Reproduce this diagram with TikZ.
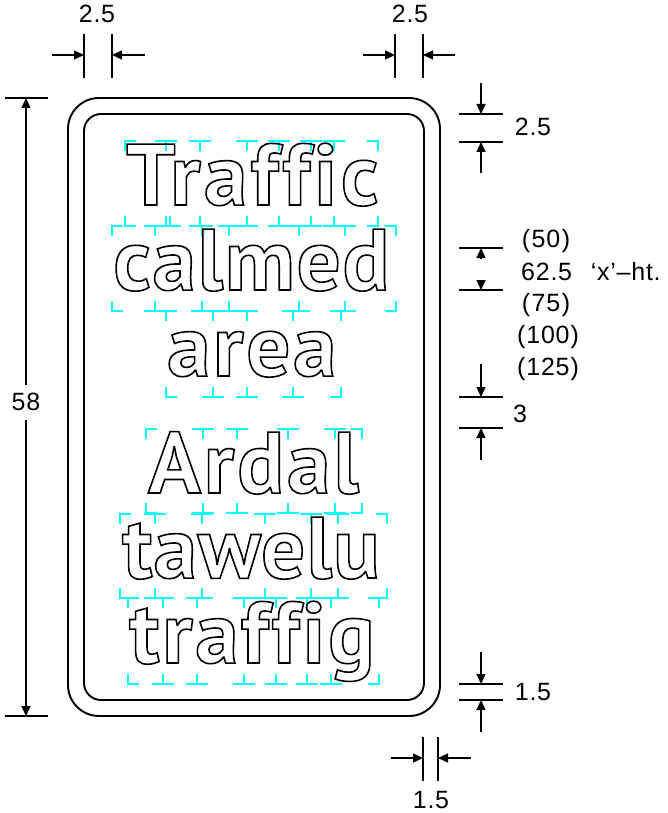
\documentclass[tikz,border=0pt]{standalone}
\usepackage{fontspec}
\setmainfont{Liberation Sans}
\newfontface\signA[Ligatures=NoCommon,LetterSpace=4.1]{PT Sans Bold}
\newfontface\signB[Ligatures=NoCommon,LetterSpace=2]{PT Sans Bold}
\newfontface\signC[Ligatures=NoCommon,LetterSpace=3.1]{PT Sans Bold}
\newfontface\signD[Ligatures=NoCommon,LetterSpace=3.4]{PT Sans Bold}
\newfontface\signE[Ligatures=NoCommon,LetterSpace=1.3]{PT Sans Bold}
\newfontface\signF[Ligatures=NoCommon,LetterSpace=3]{PT Sans Bold}
\definecolor{tickc}{RGB}{0,255,255}
\newcommand{\outl}[1]{\special{pdf:code q 1 Tr 1.6 w}#1\special{pdf:code Q}}
\newcommand{\sz}{\fontsize{87}{87}\selectfont}
\usetikzlibrary{arrows.meta}
\tikzset{
  frameline/.style={line width=1.9pt,black},
  dimline/.style={line width=1.3pt,black},
  dimarrow/.style={line width=1.3pt,black,-{Triangle[length=10pt,width=9pt]}},
  dimtext/.style={font=\fontsize{25}{25}\selectfont\addfontfeature{LetterSpace=3},inner sep=0pt},
  signword/.style={inner sep=0pt,anchor=base west},
  tilemark/.style={line width=1.7pt,tickc}
}
\newcommand{\tmark}[3]{\draw[tilemark] (#1-11,#2) -- (#1+11,#2) (#1,#2) -- (#1,#2+#3);}
\newcommand{\lmark}[3]{\draw[tilemark] (#1+11,#2) -- (#1,#2) -- (#1,#2+#3);}
\newcommand{\rmark}[3]{\draw[tilemark] (#1-11,#2) -- (#1,#2) -- (#1,#2+#3);}
\newcommand{\tilerow}[5]{%
  \lmark{#1}{#4}{#5}\rmark{#3}{#4}{#5}
  \foreach \q in {#2} {\tmark{\q}{#4}{#5}}}
\begin{document}
\begin{tikzpicture}[x=1pt,y=-1pt]
\useasboundingbox (0,0) rectangle (667,813);
% tile marks
\tilerow{125}{165.7,200,247.3,279.3,311,334.3}{377.7}{141}{10}
\tilerow{125}{165.7,170,200,247.3,279.3,311,334.3}{377.7}{226}{-10}
\tilerow{111.7}{155,202.3,229,298.7,345}{395.7}{226}{10}
\tilerow{111.7}{155,202.3,229,298.7,345}{395.7}{311}{-10}
\tilerow{165.7}{213.3,246.7,293.3}{340.7}{311}{10}
\tilerow{165.7}{213.3,246.7,293.3}{340.7}{397}{-10}
\tilerow{145.7}{202.7,236.7,288.3,335.3}{361.7}{429}{10}
\tilerow{145.7}{202.7,236.7,288.3,335.3}{361.7}{513}{-10}
\tilerow{120}{155,202.3,265,311,337.7}{386.7}{514}{10}
\tilerow{120}{155,202.3,265,311,337.7}{386.7}{598}{-10}
\tilerow{128.3}{162.7,196.7,244,275.7,307.3,330.7}{379.3}{598}{10}
\tilerow{128.3}{162.7,196.7,244,275.7,307.3,330.7}{379.3}{684}{-10}
% frame
\draw[frameline,rounded corners=17pt] (84,114) rectangle (424,700);
\draw[frameline,rounded corners=31pt] (68,98) rectangle (440,716);
% words
\node[signword] (w1) at (126,205) {\signA\sz\outl{Traffic}};
\node[signword] (w2) at (113,290) {\signB\sz\outl{calmed}};
\node[signword] (w3) at (167,376) {\signC\sz\outl{area}};
\node[signword] (w4) at (148,493) {\signD\sz\outl{Ardal}};
\node[signword] (w5) at (122,578) {\signE\sz\outl{tawelu}};
\node[signword] (w6) at (129,663) {\signF\sz\outl{traffig}};
% top-left dimension
\coordinate (a1) at (84,34); \coordinate (a2) at (84,78);
\coordinate (b1) at (112,34); \coordinate (b2) at (112,78);
\draw[dimline] (a1)--(a2) (b1)--(b2);
\coordinate (a3) at (52,55); \coordinate (a4) at (84,55);
\coordinate (b3) at (145,55); \coordinate (b4) at (112,55);
\draw[dimarrow] (a3)--(a4); \draw[dimarrow] (b3)--(b4);
\node[dimtext] (t1) at (97,14) {2.5};
% top-right dimension
\coordinate (c1) at (395,34); \coordinate (c2) at (395,78);
\coordinate (d1) at (423,34); \coordinate (d2) at (423,78);
\draw[dimline] (c1)--(c2) (d1)--(d2);
\coordinate (c3) at (363,55); \coordinate (c4) at (395,55);
\coordinate (d3) at (455,55); \coordinate (d4) at (423,55);
\draw[dimarrow] (c3)--(c4); \draw[dimarrow] (d3)--(d4);
\node[dimtext] (t2) at (410,14) {2.5};
% left 58
\coordinate (e1) at (5,98); \coordinate (e2) at (48,98);
\coordinate (f1) at (5,716); \coordinate (f2) at (48,716);
\draw[dimline] (e1)--(e2) (f1)--(f2);
\coordinate (e3) at (26,385); \coordinate (e4) at (26,98);
\coordinate (f3) at (26,420); \coordinate (f4) at (26,716);
\draw[dimarrow] (e3)--(e4); \draw[dimarrow] (f3)--(f4);
\node[dimtext] (t3) at (26,402) {58};
% right dims
\coordinate (g1) at (459,114); \coordinate (g2) at (503,114);
\coordinate (h1) at (459,142); \coordinate (h2) at (503,142);
\draw[dimline] (g1)--(g2) (h1)--(h2);
\coordinate (g3) at (481,83); \coordinate (g4) at (481,114);
\coordinate (h3) at (481,173); \coordinate (h4) at (481,142);
\draw[dimarrow] (g3)--(g4); \draw[dimarrow] (h3)--(h4);
\node[dimtext] (t4) at (533,127) {2.5};
\coordinate (i1) at (459,248); \coordinate (i2) at (503,248);
\coordinate (j1) at (459,290); \coordinate (j2) at (503,290);
\draw[dimline] (i1)--(i2) (j1)--(j2);
\coordinate (i3) at (481,258); \coordinate (i4) at (481,248);
\coordinate (j3) at (481,280); \coordinate (j4) at (481,290);
\draw[dimarrow] (i3)--(i4); \draw[dimarrow] (j3)--(j4);
\node[dimtext] (t5) at (546,241) {(\kern1.5pt 50\kern1.5pt)};
\node[dimtext,anchor=west] (t6) at (521,272) {62.5\hspace{0.75em}‘x’–ht.};
\node[dimtext] (t7) at (546,305) {(\kern1.5pt 75\kern1.5pt)};
\node[dimtext] (t8) at (548,337) {(\kern1pt 100\kern1pt)};
\node[dimtext] (t9) at (548,369) {(\kern1pt 125\kern1pt)};
\coordinate (k1) at (459,397); \coordinate (k2) at (503,397);
\coordinate (l1) at (459,428); \coordinate (l2) at (503,428);
\draw[dimline] (k1)--(k2) (l1)--(l2);
\coordinate (k3) at (481,364); \coordinate (k4) at (481,397);
\coordinate (l3) at (481,460); \coordinate (l4) at (481,428);
\draw[dimarrow] (k3)--(k4); \draw[dimarrow] (l3)--(l4);
\node[dimtext] (t10) at (520,414) {3};
\coordinate (m1) at (459,684); \coordinate (m2) at (503,684);
\coordinate (n1) at (459,700); \coordinate (n2) at (503,700);
\draw[dimline] (m1)--(m2) (n1)--(n2);
\coordinate (m3) at (481,652); \coordinate (m4) at (481,684);
\coordinate (n3) at (481,732); \coordinate (n4) at (481,700);
\draw[dimarrow] (m3)--(m4); \draw[dimarrow] (n3)--(n4);
\node[dimtext] (t11) at (533,692) {1.5};
% bottom dim
\coordinate (o1) at (423,737); \coordinate (o2) at (423,781);
\coordinate (p1) at (438,737); \coordinate (p2) at (438,781);
\draw[dimline] (o1)--(o2) (p1)--(p2);
\coordinate (o3) at (391,758); \coordinate (o4) at (423,758);
\coordinate (p3) at (471,758); \coordinate (p4) at (438,758);
\draw[dimarrow] (o3)--(o4); \draw[dimarrow] (p3)--(p4);
\node[dimtext] (t12) at (431,800) {1.5};
\end{tikzpicture}
\end{document}
